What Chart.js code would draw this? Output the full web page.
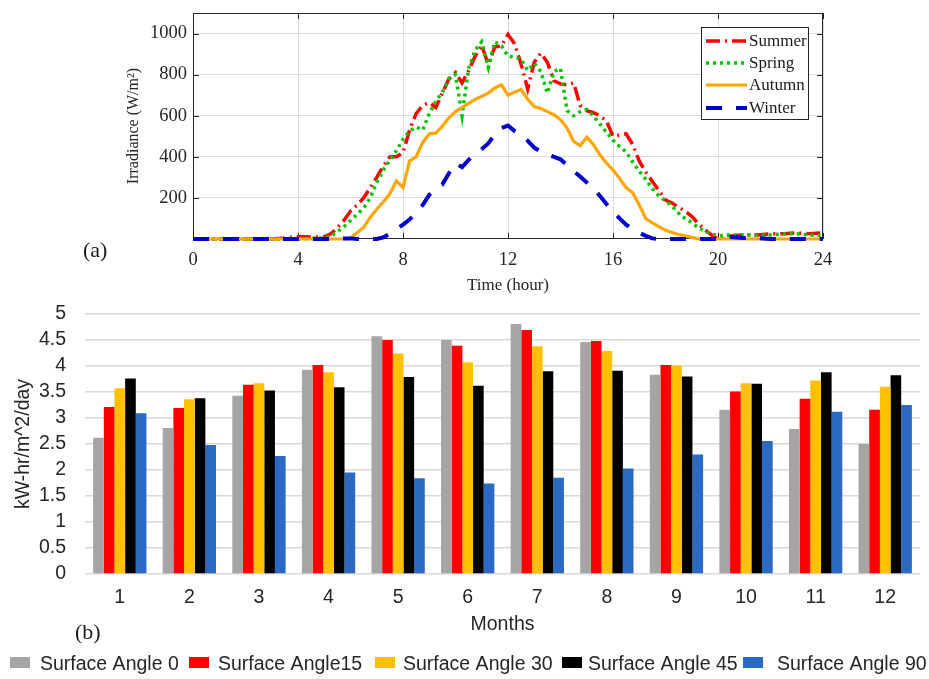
<!DOCTYPE html>
<html>
<head>
<meta charset="utf-8">
<script src="https://cdn.jsdelivr.net/npm/chart.js@4.4.1/dist/chart.umd.min.js"></script>
<style>
  html, body { margin: 0; padding: 0; background: #fff; }
  body { width: 929px; height: 679px; position: relative; overflow: hidden; }
  canvas { position: absolute; left: 0; }
  #cTop { top: 0; }
  #cBot { top: 295px; }
  .tag { position: absolute; font-family: 'Liberation Serif', 'Times New Roman', serif; font-size: 22px; color: #1a1a1a; line-height: 1; }
</style>
</head>
<body>
<canvas id="cTop" width="929" height="300"></canvas>
<canvas id="cBot" width="929" height="384"></canvas>
<div class="tag" style="left:83px;top:239px">(a)</div>
<div class="tag" style="left:75px;top:621px">(b)</div>
<script>
'use strict';

const serif = "'Liberation Serif','Times New Roman',serif";
const sans = "'Liberation Sans',Arial,sans-serif";

/* ---- (a) irradiance through the day ---- */
const hours = [
  0, 0.5, 1, 1.5, 2, 2.5, 3, 3.5, 4, 4.5,
  5, 5.25, 5.5, 5.75, 6, 6.25, 6.5, 6.75, 7, 7.25, 7.5, 7.75,
  8, 8.25, 8.5, 8.75, 9, 9.25, 9.5, 9.75, 10, 10.25, 10.5, 10.75,
  11, 11.25, 11.5, 11.75, 12, 12.25, 12.5, 12.75, 13, 13.25, 13.5, 13.75,
  14, 14.25, 14.5, 14.75, 15, 15.25, 15.5, 15.75, 16, 16.25, 16.5, 16.75,
  17, 17.25, 17.5, 17.75, 18, 18.25, 18.5, 18.75, 19, 19.25, 19.5, 19.75,
  20, 20.5, 21, 21.5, 22, 22.5, 23, 23.5, 24
];
const summer = [
  0, 0, 0, 0, 0, 0, 0, 5, 12, 10,
  10, 25, 55, 90, 136, 165, 200, 250, 300, 355, 400, 400,
  420, 530, 610, 650, 665, 640, 710, 780, 810, 760, 820, 890,
  940, 850, 935, 940, 995, 950, 850, 730, 860, 905, 860, 770,
  755, 750, 760, 650, 625, 615, 600, 575, 500, 505, 512, 460,
  380, 325, 280, 235, 190, 175, 155, 135, 110, 75, 45, 20,
  0, 15, 20, 20, 25, 25, 30, 25, 30
];
const spring = [
  0, 0, 0, 0, 0, 0, 0, 0, 0, 3,
  5, 15, 35, 60, 90, 120, 150, 200, 275, 335, 385, 430,
  485, 525, 545, 530, 610, 670, 715, 780, 800, 600, 830, 920,
  960, 835, 960, 940, 890, 885, 875, 820, 855, 815, 710, 815,
  830, 625, 600, 620, 630, 600, 560, 520, 480, 450, 424, 375,
  330, 290, 245, 210, 185, 160, 125, 100, 80, 55, 38, 25,
  15, 20, 20, 18, 20, 25, 25, 20, 15
];
const autumn = [
  0, 0, 0, 0, 0, 0, 0, 0, 0, 0,
  0, 0, 0, 0, 5, 30, 56, 105, 145, 180, 220, 283,
  250, 380, 400, 470, 512, 515, 550, 590, 620, 640, 660, 680,
  695, 710, 735, 750, 700, 715, 728, 680, 645, 635, 620, 605,
  580, 540, 475, 455, 495, 460, 410, 370, 336, 295, 250, 225,
  165, 100, 78, 60, 42, 32, 22, 15, 8, 0, 0, 0,
  0, 0, 0, 0, 0, 0, 0, 0, 0
];
const winter = [
  0, 0, 0, 0, 0, 0, 0, 0, 0, 0,
  0, 0, 0, 3, 3, 0, 0, 0, 0, 8, 25, 48,
  70, 95, 130, 165, 215, 245, 265, 320, 370, 350, 385, 415,
  438, 465, 510, 540, 552, 525, 505, 478, 445, 425, 412, 400,
  388, 360, 330, 304, 275, 245, 210, 170, 135, 100, 70, 48,
  30, 15, 3, 0, 0, 0, 0, 0, 0, 0, 0, 0,
  0, 10, 5, 5, 0, 0, 0, 0, 0
];
const irrTicks = [200, 400, 600, 800, 1000];

/* ---- (b) monthly yield by surface angle ---- */
const months = ['1', '2', '3', '4', '5', '6', '7', '8', '9', '10', '11', '12'];
const angle0  = [2.62, 2.81, 3.43, 3.93, 4.57, 4.50, 4.81, 4.46, 3.83, 3.16, 2.79, 2.50];
const angle15 = [3.21, 3.19, 3.64, 4.02, 4.50, 4.39, 4.69, 4.48, 4.02, 3.51, 3.37, 3.16];
const angle30 = [3.57, 3.36, 3.67, 3.88, 4.24, 4.07, 4.38, 4.29, 4.01, 3.67, 3.72, 3.60];
const angle45 = [3.76, 3.38, 3.53, 3.59, 3.79, 3.62, 3.90, 3.91, 3.80, 3.66, 3.88, 3.82];
const angle90 = [3.09, 2.48, 2.27, 1.95, 1.84, 1.74, 1.85, 2.03, 2.30, 2.56, 3.12, 3.25];
const angleNames = ['Surface Angle 0', 'Surface Angle15', 'Surface Angle 30', 'Surface Angle 45', 'Surface Angle 90'];

function pts(vals){ return vals.map((v, i) => ({ x: hours[i], y: v })); }
// pin an axis box to a fixed size so the plot area lands where the figure has it
function pinBox(w, h){
  return s => {
    if (w != null) s.width = w;
    if (h != null) s.height = h;
    s.paddingTop = 0; s.paddingBottom = 0; s.paddingLeft = 0; s.paddingRight = 0;
  };
}

// matlab-ish box with inward ticks, drawn under the lines
const matFrame = {
  id: 'matFrame',
  beforeDatasetsDraw(chart){
    const { ctx, chartArea: a, scales: { x, y } } = chart;
    ctx.save();
    ctx.strokeStyle = '#262626'; ctx.lineWidth = 1;
    ctx.strokeRect(a.left + 0.5, a.top + 0.5, a.right - a.left - 1, a.bottom - a.top - 1);
    ctx.beginPath();
    x.ticks.forEach(t => {
      const px = Math.round(x.getPixelForValue(t.value)) + 0.5;
      ctx.moveTo(px, a.bottom); ctx.lineTo(px, a.bottom - 6);
      ctx.moveTo(px, a.top); ctx.lineTo(px, a.top + 6);
    });
    y.ticks.forEach(t => {
      const py = Math.round(y.getPixelForValue(t.value)) + 0.5;
      ctx.moveTo(a.left, py); ctx.lineTo(a.left + 6, py);
      ctx.moveTo(a.right, py); ctx.lineTo(a.right - 6, py);
    });
    ctx.stroke();
    ctx.restore();
  }
};

const seasonLegend = {
  id: 'seasonLegend',
  afterDraw(chart){
    const ctx = chart.ctx;
    const rows = [41, 63, 85, 108];
    ctx.save();
    ctx.fillStyle = '#fff';
    ctx.fillRect(701.5, 27.5, 107, 92);
    ctx.strokeStyle = '#262626'; ctx.lineWidth = 1;
    ctx.strokeRect(701.5, 27.5, 107, 92);
    chart.data.datasets.forEach((ds, i) => {
      ctx.beginPath();
      ctx.setLineDash(ds.borderDash || []);
      ctx.lineWidth = ds.borderWidth; ctx.strokeStyle = ds.borderColor;
      ctx.moveTo(706, rows[i]); ctx.lineTo(747, rows[i]);
      ctx.stroke();
      ctx.setLineDash([]);
      ctx.fillStyle = '#1a1a1a';
      ctx.font = '17px ' + serif;
      ctx.textBaseline = 'middle';
      ctx.fillText(ds.label, 749, rows[i] + 1);
    });
    ctx.restore();
  }
};

new Chart(document.getElementById('cTop'), {
  type: 'line',
  data: { datasets: [
    { label: 'Summer', data: pts(summer), borderColor: '#ff0000', borderWidth: 3.5, borderDash: [14, 5, 2, 5], order: 3 },
    { label: 'Spring', data: pts(spring), borderColor: '#00c400', borderWidth: 3.5, borderDash: [3, 4], order: 2 },
    { label: 'Autumn', data: pts(autumn), borderColor: '#ffa500', borderWidth: 3.2, order: 1 },
    { label: 'Winter', data: pts(winter), borderColor: '#0000cc', borderWidth: 4, borderDash: [16, 14], order: 0 }
  ] },
  options: {
    responsive: false, animation: false,
    datasets: { line: { pointRadius: 0, tension: 0, fill: false, clip: 6 } },
    layout: { padding: { left: 123, right: 106, top: 13, bottom: 0 } },
    plugins: { legend: { display: false }, tooltip: { enabled: false } },
    scales: {
      x: { type: 'linear', min: 0, max: 24,
        ticks: { stepSize: 4, color: '#262626', padding: 10, font: { family: serif, size: 18.5 } },
        grid: { color: '#dcdcdc', drawTicks: false }, border: { display: false },
        title: { display: true, text: 'Time (hour)', color: '#262626', font: { family: serif, size: 17 }, padding: { top: 0, bottom: 4 } },
        afterFit: pinBox(null, 61) },
      y: { min: 0, max: 1100,
        afterBuildTicks: ax => { ax.ticks = irrTicks.map(v => ({ value: v })); },
        ticks: { color: '#262626', padding: 6, font: { family: serif, size: 18.5 }, callback: v => String(v) },
        grid: { color: '#dcdcdc', drawTicks: false }, border: { display: false },
        title: { display: true, text: 'Irradiance (W/m²)', color: '#262626', font: { family: serif, size: 16 }, padding: { top: 1, bottom: 0 } },
        afterFit: pinBox(70, null) }
    }
  },
  plugins: [matFrame, seasonLegend]
});

const keyX = [10, 189, 375, 562, 743];
const keyTextX = [40, 218, 403, 588, 777];
const angleLegend = {
  id: 'angleLegend',
  afterDraw(chart){
    const ctx = chart.ctx;
    ctx.save();
    ctx.font = '19.5px ' + sans;
    ctx.textBaseline = 'middle';
    chart.data.datasets.forEach((ds, i) => {
      ctx.fillStyle = ds.backgroundColor;
      ctx.fillRect(keyX[i], 362, 20, 11);
      ctx.fillStyle = '#262626';
      ctx.fillText(ds.label, keyTextX[i], 370);
    });
    ctx.restore();
  }
};

const angleColors = ['#a5a5a5', '#ff0000', '#ffc000', '#000000', '#2a6ac4'];
new Chart(document.getElementById('cBot'), {
  type: 'bar',
  data: { labels: months, datasets: [angle0, angle15, angle30, angle45, angle90].map((vals, i) => ({
    label: angleNames[i], data: vals, backgroundColor: angleColors[i], borderWidth: 0,
    categoryPercentage: 0.766, barPercentage: 1
  })) },
  options: {
    responsive: false, animation: false,
    layout: { padding: { left: 5, right: 9, top: 19, bottom: 43 } },
    plugins: { legend: { display: false }, tooltip: { enabled: false } },
    scales: {
      x: { grid: { display: false, drawTicks: false }, border: { display: false },
        ticks: { color: '#262626', padding: 12, font: { family: sans, size: 19.5 } },
        title: { display: true, text: 'Months', color: '#262626', font: { family: sans, size: 19.5 }, padding: { top: 0, bottom: 0 } },
        afterFit: pinBox(null, 62) },
      y: { min: 0, max: 5,
        ticks: { stepSize: 0.5, autoSkip: false, color: '#262626', padding: 19, font: { family: sans, size: 19.5 },
          callback: v => String(+Number(v).toFixed(1)) },
        grid: { color: '#d9d9d9', lineWidth: 1.5, drawTicks: false }, border: { display: false },
        title: { display: true, text: 'kW-hr/m^2/day', color: '#262626', font: { family: sans, size: 19.5 }, padding: { top: 7, bottom: 0 } },
        afterFit: pinBox(80, null) }
    }
  },
  plugins: [angleLegend]
});
</script>
</body>
</html>
